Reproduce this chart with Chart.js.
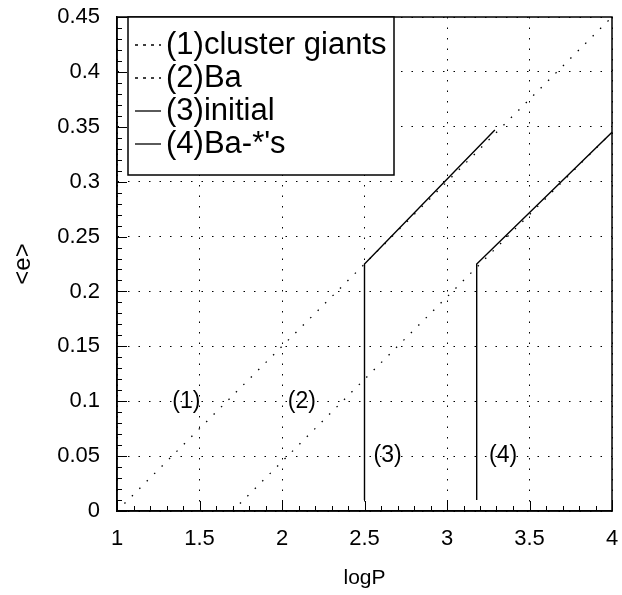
<!DOCTYPE html>
<html>
<head>
<meta charset="utf-8">
<script src="https://cdn.jsdelivr.net/npm/chart.js@4.4.1/dist/chart.umd.min.js"></script>
<style>
    html, body { margin: 0; padding: 0; background: #fff; }
</style>
</head>
<body>
<canvas id="eccChart" width="622" height="595"></canvas>
<script>
// Data
const clusterX = [1, 4];
const clusterY = [0, 0.45];
const baX = [1.7, 4];
const baY = [0, 0.345];
const initialX = [2.5, 2.5, 3.29];
const initialY = [0.01, 0.225, 0.347];
const baStarsX = [3.18, 3.18, 4];
const baStarsY = [0.01, 0.225, 0.345];

const seriesLabels = ['(1)cluster giants', '(2)Ba', '(3)initial', "(4)Ba-*'s"];

const tagText = ['(1)', '(2)', '(3)', '(4)'];
const tagX = [1.42, 2.12, 2.64, 3.34];
const tagY = [0.1, 0.1, 0.05, 0.05];

const xTicks = [1, 1.5, 2, 2.5, 3, 3.5, 4];
const yTicks = [0, 0.05, 0.1, 0.15, 0.2, 0.25, 0.3, 0.35, 0.4, 0.45];

// Helpers
const toPoints = (xs, ys) => xs.map((x, i) => ({ x, y: ys[i] }));
const FONT = "'Liberation Sans', Arial, Helvetica, sans-serif";
const DOTS = [1.5, 9];

const makeSet = (label, xs, ys, dotted) => ({
    label,
    data: toPoints(xs, ys),
    showLine: true,
    borderColor: '#000',
    borderWidth: dotted ? 1.3 : 1.4,
    borderDash: dotted ? DOTS : [],
    pointRadius: 0,
    fill: false,
    tension: 0,
    legendDash: dotted ? [3, 5] : [],
});

// Frame, inside minor ticks, tags and boxed legend
const decorPlugin = {
    id: 'decor',
    afterDatasetsDraw(chart) {
        const { ctx, chartArea: a, scales: { x, y } } = chart;
        ctx.save();
        ctx.strokeStyle = '#000';
        ctx.lineWidth = 1.5;
        ctx.strokeRect(a.left, a.top, a.right - a.left, a.bottom - a.top);

        ctx.lineWidth = 1;
        ctx.beginPath();
        for (let i = 10; i <= 40; i++) {
            const px = Math.round(x.getPixelForValue(i / 10)) + 0.5;
            const len = i % 5 === 0 ? 10 : 5;
            ctx.moveTo(px, a.bottom);
            ctx.lineTo(px, a.bottom - len);
        }
        for (let i = 0; i <= 45; i++) {
            const py = Math.round(y.getPixelForValue(i / 100)) + 0.5;
            const len = i % 5 === 0 ? 10 : 5;
            ctx.moveTo(a.left, py);
            ctx.lineTo(a.left + len, py);
        }
        ctx.stroke();

        ctx.fillStyle = '#000';
        ctx.font = `23px ${FONT}`;
        ctx.textAlign = 'center';
        ctx.textBaseline = 'middle';
        tagText.forEach((t, i) => {
            ctx.fillText(t, x.getPixelForValue(tagX[i]), y.getPixelForValue(tagY[i]));
        });

        // legend box
        const box = { left: 128, top: a.top, right: 394, bottom: 175 };
        ctx.fillStyle = '#fff';
        ctx.fillRect(box.left, box.top, box.right - box.left, box.bottom - box.top);
        ctx.lineWidth = 1.5;
        ctx.strokeRect(box.left, box.top, box.right - box.left, box.bottom - box.top);
        ctx.font = `31px ${FONT}`;
        ctx.textAlign = 'left';
        ctx.textBaseline = 'middle';
        chart.data.datasets.forEach((ds, i) => {
            const cy = 45 + i * 33;
            ctx.beginPath();
            ctx.setLineDash(ds.legendDash);
            ctx.lineWidth = 1.3;
            ctx.moveTo(135, cy);
            ctx.lineTo(161, cy);
            ctx.stroke();
            ctx.setLineDash([]);
            ctx.fillStyle = '#000';
            ctx.fillText(ds.label, 166, cy);
        });
        ctx.restore();
    },
};

const ctx = document.getElementById('eccChart').getContext('2d');

// eslint-disable-next-line no-new
new Chart(ctx, {
    type: 'scatter',
    data: {
        datasets: [
            makeSet(seriesLabels[0], clusterX, clusterY, true),
            makeSet(seriesLabels[1], baX, baY, true),
            makeSet(seriesLabels[2], initialX, initialY, false),
            makeSet(seriesLabels[3], baStarsX, baStarsY, false),
        ],
    },
    options: {
        responsive: false,
        animation: false,
        devicePixelRatio: 1,
        layout: { padding: { top: 17, right: 10, left: 0, bottom: 0 } },
        plugins: {
            legend: { display: false },
            tooltip: { enabled: false },
        },
        scales: {
            x: {
                type: 'linear',
                min: 1,
                max: 4,
                afterBuildTicks: (s) => { s.ticks = xTicks.map((v) => ({ value: v })); },
                afterFit: (s) => {
                    s.height = 84;
                    s.paddingLeft = 0;
                    s.paddingRight = 0;
                },
                ticks: {
                    color: '#000',
                    font: { family: FONT, size: 22 },
                    padding: 15,
                    maxRotation: 0,
                    callback: (v) => String(v),
                },
                grid: { color: '#000', lineWidth: 1, drawTicks: false },
                border: { color: '#000', width: 1.5, dash: DOTS },
                title: {
                    display: true,
                    text: 'logP',
                    color: '#000',
                    font: { family: FONT, size: 21 },
                    padding: { top: 0, bottom: 4 },
                },
            },
            y: {
                type: 'linear',
                min: 0,
                max: 0.45,
                afterBuildTicks: (s) => { s.ticks = yTicks.map((v) => ({ value: v })); },
                afterFit: (s) => {
                    s.width = 117;
                    s.paddingTop = 0;
                    s.paddingBottom = 0;
                },
                ticks: {
                    color: '#000',
                    font: { family: FONT, size: 22 },
                    padding: 17,
                    callback: (v) => String(v),
                },
                grid: { color: '#000', lineWidth: 1, drawTicks: false },
                border: { color: '#000', width: 1.5, dash: DOTS },
                title: {
                    display: true,
                    text: '<e>',
                    color: '#000',
                    font: { family: FONT, size: 24 },
                    padding: { top: 9, bottom: 0 },
                },
            },
        },
    },
    plugins: [decorPlugin],
});
</script>
</body>
</html>
